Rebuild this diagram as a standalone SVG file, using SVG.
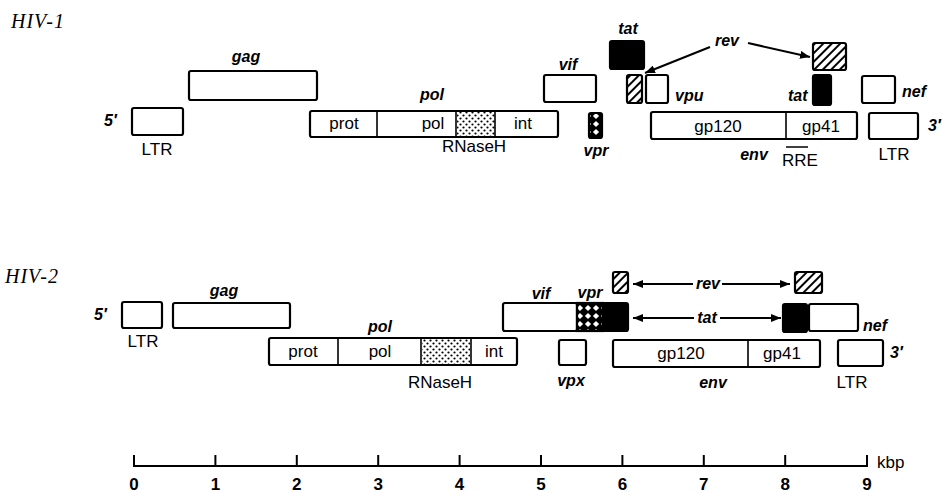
<svg xmlns="http://www.w3.org/2000/svg" width="942" height="493" viewBox="0 0 942 493">
<style>
.b{fill:#fff;stroke:#000;stroke-width:2.2}
.k{fill:#000;stroke:#000;stroke-width:2.2}
.h{fill:url(#hatch);stroke:#000;stroke-width:2.2}
.x{fill:url(#cross);stroke:#000;stroke-width:2.2}
.d{fill:url(#dots);stroke:none}
.dv{stroke:#000;stroke-width:1.6}
.t{font-family:"Liberation Sans",Arial,sans-serif;font-size:17px;fill:#000;text-anchor:middle}
.i{font-family:"Liberation Sans",Arial,sans-serif;font-size:16px;font-weight:bold;font-style:italic;fill:#000;text-anchor:middle}
.s{text-anchor:start}
.ttl{font-family:"Liberation Serif","Times New Roman",serif;font-size:20px;font-style:italic;letter-spacing:1px;fill:#000}
.a{stroke:#000;stroke-width:2;fill:none;marker-end:url(#ah)}
.sc{stroke:#000;stroke-width:2;fill:none}
.n{font-family:"Liberation Sans",Arial,sans-serif;font-size:17px;font-weight:bold;fill:#000;text-anchor:middle}
</style>
<defs>
<pattern id="hatch" width="6" height="6" patternUnits="userSpaceOnUse" patternTransform="rotate(45)">
<rect width="6" height="6" fill="#fff"/><line x1="1" y1="0" x2="1" y2="6" stroke="#000" stroke-width="2"/>
</pattern>
<pattern id="cross" width="8" height="8" patternUnits="userSpaceOnUse">
<rect width="8" height="8" fill="#000"/><polygon points="4,0.9 7.1,4 4,7.1 0.9,4" fill="#fff"/>
</pattern>
<pattern id="dots" width="6" height="6" patternUnits="userSpaceOnUse">
<rect width="6" height="6" fill="#fff"/><circle cx="1.5" cy="1.5" r="1.1" fill="#000"/><circle cx="4.5" cy="4.5" r="1.1" fill="#000"/>
</pattern>
<marker id="ah" viewBox="0 0 10 8" refX="10" refY="4" markerWidth="10" markerHeight="8" markerUnits="userSpaceOnUse" orient="auto">
<path d="M0,0 L10,4 L0,8 Z" fill="#000"/>
</marker>
</defs>

<text class="ttl" x="11" y="28">HIV-1</text>
<text class="ttl" x="5" y="283">HIV-2</text>

<!-- HIV-1 -->
<g id="h1-ltr5"><rect class="b" x="132" y="108" width="51" height="27" rx="2"/><text class="i s" x="104" y="126">5′</text><text class="t" x="157" y="155">LTR</text></g>
<g id="h1-gag"><rect class="b" x="189" y="71" width="128" height="29" rx="2"/><text class="i" x="246" y="62">gag</text></g>
<g id="h1-pol">
<rect class="b" x="310" y="111" width="248" height="26" rx="2"/>
<rect class="d" x="457" y="112" width="38" height="24"/>
<line class="dv" x1="377" y1="111" x2="377" y2="137"/><line class="dv" x1="456" y1="111" x2="456" y2="137"/><line class="dv" x1="495" y1="111" x2="495" y2="137"/>
<text class="i" x="432" y="100">pol</text>
<text class="t" x="344" y="129">prot</text><text class="t" x="433" y="129">pol</text><text class="t" x="523" y="129">int</text>
<text class="t" x="474" y="152">RNaseH</text>
</g>
<g id="h1-vif"><rect class="b" x="544" y="75" width="52" height="27" rx="2"/><text class="i" x="568" y="70">vif</text></g>
<g id="h1-vpr"><rect class="x" x="589" y="113" width="13" height="25" rx="2"/><text class="i" x="596" y="156">vpr</text></g>
<g id="h1-tat1"><rect class="k" x="610" y="41" width="34" height="28" rx="2"/><text class="i" x="628" y="34">tat</text></g>
<g id="h1-rev1"><rect class="h" x="627" y="75" width="15" height="28" rx="2"/></g>
<g id="h1-vpu"><rect class="b" x="646" y="75" width="22" height="28" rx="2"/><text class="i s" x="675" y="101">vpu</text></g>
<g id="h1-env">
<rect class="b" x="651" y="112" width="206" height="27" rx="2"/><line class="dv" x1="786" y1="112" x2="786" y2="139"/>
<text class="t" x="718" y="132">gp120</text><text class="t" x="821" y="132">gp41</text>
<text class="i" x="754" y="160">env</text>
<text class="t" x="800" y="166">RRE</text><line x1="786" y1="147" x2="808" y2="147" stroke="#000" stroke-width="1.5"/>
</g>
<g id="h1-rev"><rect class="h" x="813" y="43" width="33" height="27" rx="2"/><text class="i" x="727" y="46">rev</text></g>
<g id="h1-tat2"><rect class="k" x="813" y="75" width="18" height="30" rx="2"/><text class="i s" x="788" y="101">tat</text></g>
<g id="h1-nef"><rect class="b" x="862" y="76" width="33" height="27" rx="2"/><text class="i s" x="902" y="97">nef</text></g>
<g id="h1-ltr3"><rect class="b" x="869" y="113" width="49" height="26" rx="2"/><text class="i s" x="928" y="131">3′</text><text class="t" x="894" y="160">LTR</text></g>

<!-- HIV-2 -->
<g id="h2-ltr5"><rect class="b" x="122" y="302" width="40" height="26" rx="2"/><text class="i s" x="94" y="320">5′</text><text class="t" x="143" y="347">LTR</text></g>
<g id="h2-gag"><rect class="b" x="173" y="303" width="117" height="25" rx="2"/><text class="i" x="224" y="296">gag</text></g>
<g id="h2-pol">
<rect class="b" x="269" y="338" width="248" height="27" rx="2"/>
<rect class="d" x="422" y="339" width="48" height="25"/>
<line class="dv" x1="338" y1="338" x2="338" y2="365"/><line class="dv" x1="421" y1="338" x2="421" y2="365"/><line class="dv" x1="471" y1="338" x2="471" y2="365"/>
<text class="i" x="380" y="332">pol</text>
<text class="t" x="303" y="357">prot</text><text class="t" x="380" y="357">pol</text><text class="t" x="494" y="357">int</text>
<text class="t" x="440" y="388">RNaseH</text>
</g>
<g id="h2-vif"><rect class="b" x="503" y="303" width="74" height="28" rx="2"/><text class="i" x="541" y="299">vif</text></g>
<g id="h2-vpr"><rect class="x" x="577" y="303" width="26" height="28"/><text class="i" x="590" y="298">vpr</text></g>
<g id="h2-tat1"><rect class="k" x="603" y="303" width="25" height="28" rx="2"/></g>
<g id="h2-rev1"><rect class="h" x="613" y="272" width="15" height="21" rx="2"/></g>
<g id="h2-vpx"><rect class="b" x="559" y="340" width="27" height="25" rx="2"/><text class="i" x="571" y="386">vpx</text></g>
<g id="h2-env">
<rect class="b" x="613" y="340" width="207" height="27" rx="2"/><line class="dv" x1="748" y1="340" x2="748" y2="367"/>
<text class="t" x="681" y="359">gp120</text><text class="t" x="782" y="359">gp41</text>
<text class="i" x="713" y="388">env</text>
</g>
<g id="h2-tat2"><rect class="k" x="783" y="304" width="24" height="28" rx="2"/><text class="i" x="707" y="323">tat</text></g>
<g id="h2-rev2"><rect class="h" x="795" y="272" width="27" height="21" rx="2"/><text class="i" x="708" y="289">rev</text></g>
<g id="h2-nef"><rect class="b" x="809" y="304" width="49" height="27" rx="2"/><text class="i s" x="863" y="331">nef</text></g>
<g id="h2-ltr3"><rect class="b" x="838" y="340" width="45" height="26" rx="2"/><text class="i s" x="890" y="358">3′</text><text class="t" x="852" y="388">LTR</text></g>

<g id="connectors">
<line class="a" x1="710" y1="47" x2="645" y2="73"/>
<line class="a" x1="748" y1="43" x2="810" y2="57"/>
<line class="a" x1="693" y1="284" x2="633" y2="284"/>
<line class="a" x1="722" y1="284" x2="790" y2="284"/>
<line class="a" x1="694" y1="318" x2="633" y2="318"/>
<line class="a" x1="720" y1="318" x2="781" y2="318"/>
</g>

<g id="scale">
<path class="sc" d="M134,455 V466 H867 V455"/>
<path class="sc" d="M215.4,455 V466 M296.8,455 V466 M378.2,455 V466 M459.6,455 V466 M541,455 V466 M622.4,455 V466 M703.8,455 V466 M785.2,455 V466"/>
<text class="t" x="877" y="468" style="text-anchor:start">kbp</text>
<text class="n" x="134" y="490">0</text><text class="n" x="215.4" y="490">1</text><text class="n" x="296.8" y="490">2</text><text class="n" x="378.2" y="490">3</text><text class="n" x="459.6" y="490">4</text><text class="n" x="541" y="490">5</text><text class="n" x="622.4" y="490">6</text><text class="n" x="703.8" y="490">7</text><text class="n" x="785.2" y="490">8</text><text class="n" x="867" y="490">9</text>
</g>
</svg>
